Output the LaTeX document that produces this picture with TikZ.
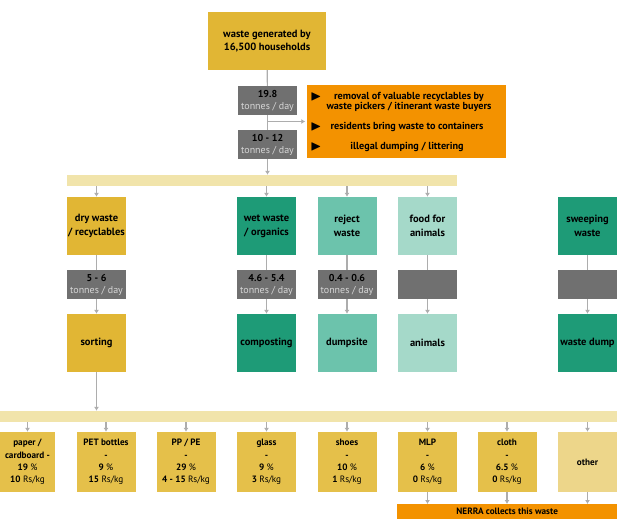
\documentclass[tikz,border=0pt]{standalone}
\usepackage{amssymb}
\usepackage{fontspec}
\setmainfont{PT Sans}
\usepackage{tikz}
\usetikzlibrary{arrows.meta}

\definecolor{wgold}{HTML}{E1B634}
\definecolor{witem}{HTML}{E5C04A}
\definecolor{wpale}{HTML}{EDD68A}
\definecolor{worange}{HTML}{F39200}
\definecolor{wgrey}{HTML}{707070}
\definecolor{wtonne}{HTML}{D6D6D6}
\definecolor{wbar}{HTML}{F1E4AB}
\definecolor{wgreen}{HTML}{1E9B77}
\definecolor{wteal}{HTML}{6CC3AC}
\definecolor{wmint}{HTML}{A5D9C9}
\definecolor{wline}{HTML}{ADADAD}

\newcommand{\tpd}{{\mdseries\color{wtonne}tonnes / day}}
\newcommand{\lite}[1]{{\mdseries #1}}

\begin{document}
\begin{tikzpicture}[x=1pt, y=-1pt,
    box/.style={minimum width=59pt, minimum height=58pt, inner sep=1pt,
                align=center, font=\fontsize{10.5}{14}\selectfont\bfseries},
    gold/.style={box, fill=wgold},
    rate/.style={fill=wgrey, minimum width=59pt, minimum height=29pt,
                 inner sep=1pt, align=center,
                 font=\fontsize{10}{12}\selectfont\bfseries},
    item/.style={fill=witem, minimum width=59pt, minimum height=60pt,
                 inner sep=1pt, align=center,
                 font=\fontsize{9.2}{12.3}\selectfont\bfseries},
    bar/.style={fill=wbar, minimum height=11pt, inner sep=0pt},
    note/.style={font=\fontsize{10.2}{10.5}\selectfont\bfseries, align=center},
    tri/.style={font=\Large, inner sep=0pt},
    link/.style={draw=wline, line width=1.2pt},
    arr/.style={link, -{Latex[length=4pt, width=5pt]}}
]
    \useasboundingbox (0,0) rectangle (622,519);

    % households and the first split
    \node[gold, minimum width=118pt, font=\fontsize{10.5}{13}\selectfont\bfseries] (source) at (267,41)
        {waste generated by\\16,500 households};
    \node[rate] (total) at (267.5,100.5) {19.8\\\tpd};
    \node[rate] (kept) at (267.5,144.5) {10 - 12\\\tpd};

    \node[fill=worange, minimum width=199pt, minimum height=73pt] (leak) at (406.5,121.5) {};
    \node[tri] (tri1) at (316,97) {$\blacktriangleright$};
    \node[tri] (tri2) at (316,126.5) {$\blacktriangleright$};
    \node[tri] (tri3) at (316,146.5) {$\blacktriangleright$};
    \node[note] (leak1) at (409,102) {removal of valuable recyclables by\\waste pickers / itinerant waste buyers};
    \node[note] (leak2) at (407,127) {residents bring waste to containers};
    \node[note] (leak3) at (407,147) {illegal dumping / littering};

    \node[bar, minimum width=390pt] (split) at (262,180.5) {};

    % waste streams
    \node[gold] (dry) at (96.5,226) {dry waste\\/ recyclables};
    \node[rate] (dryrate) at (96.5,284.5) {5 - 6\\\tpd};
    \node[gold] (sorting) at (96.5,343) {sorting};

    \node[box, fill=wgreen] (wet) at (266.5,226) {wet waste\\/ organics};
    \node[rate] (wetrate) at (266.5,284.5) {4.6 - 5.4\\\tpd};
    \node[box, fill=wgreen] (compost) at (266.5,343) {composting};

    \node[box, fill=wteal] (reject) at (347,226) {reject\\waste};
    \node[rate] (rejectrate) at (347,284.5) {0.4 - 0.6\\\tpd};
    \node[box, fill=wteal] (dumpsite) at (347,343) {dumpsite};

    \node[box, fill=wmint] (food) at (427.5,226) {food for\\animals};
    \node[rate] (foodrate) at (427.5,284.5) {};
    \node[box, fill=wmint] (animals) at (427.5,343) {animals};

    \node[box, fill=wgreen] (sweep) at (587.5,226) {sweeping\\waste};
    \node[rate] (sweeprate) at (587.5,284.5) {};
    \node[box, fill=wgreen] (dump) at (587.5,343) {waste dump};

    \node[bar, minimum width=617pt] (sort) at (308.5,416.5) {};

    % sorted fractions
    \node[item, minimum width=55pt] (paper) at (27.5,462)
        {paper /\\cardboard -\\19 \lite{\%}\\10 \lite{Rs/kg}};
    \node[item] (pet) at (106,462) {PET bottles\\-\\9 \lite{\%}\\15 \lite{Rs/kg}};
    \node[item] (pp) at (186,462) {PP / PE\\-\\29 \lite{\%}\\4 - 15 \lite{Rs/kg}};
    \node[item] (glass) at (266.5,462) {glass\\-\\9 \lite{\%}\\3 \lite{Rs/kg}};
    \node[item] (shoes) at (347,462) {shoes\\-\\10 \lite{\%}\\1 \lite{Rs/kg}};
    \node[item] (mlp) at (427.5,462) {MLP\\-\\6 \lite{\%}\\0 \lite{Rs/kg}};
    \node[item] (cloth) at (507,462) {cloth\\-\\6.5 \lite{\%}\\0 \lite{Rs/kg}};
    \node[item, fill=wpale] (other) at (587.5,462) {other};

    \node[fill=worange, minimum width=220pt, minimum height=15pt, inner sep=0pt,
          anchor=north west, font=\fontsize{9.2}{10}\selectfont\bfseries] (nerra) at (397,504)
        {NERRA collects this waste};

    \draw[link] (source) -- (total);
    \draw[link] (total) -- (kept);
    \draw[arr] (kept) -- (kept |- split.north);
    \draw[arr, shorten >=1.5pt] (total.south |- leak.west) -- (leak.west);

    \draw[arr] (split.south -| dry.north) -- (dry.north);
    \draw[arr] (split.south -| wet.north) -- (wet.north);
    \draw[arr] (split.south -| reject.north) -- (reject.north);
    \draw[arr] (split.south -| food.north) -- (food.north);

    \draw[link] (dry) -- (dryrate);
    \draw[arr] (dryrate) -- (sorting);
    \draw[link] (wet) -- (wetrate);
    \draw[arr] (wetrate) -- (compost);
    \draw[link] (reject) -- (rejectrate);
    \draw[arr] (rejectrate) -- (dumpsite);
    \draw[link] (food) -- (foodrate);
    \draw[arr] (foodrate) -- (animals);
    \draw[link] (sweep) -- (sweeprate);
    \draw[arr] (sweeprate) -- (dump);

    \draw[arr] (sorting) -- (sorting |- sort.north);
    \draw[arr] (sort.south -| paper.north) -- (paper.north);
    \draw[arr] (sort.south -| pet.north) -- (pet.north);
    \draw[arr] (sort.south -| pp.north) -- (pp.north);
    \draw[arr] (sort.south -| glass.north) -- (glass.north);
    \draw[arr] (sort.south -| shoes.north) -- (shoes.north);
    \draw[arr] (sort.south -| mlp.north) -- (mlp.north);
    \draw[arr] (sort.south -| cloth.north) -- (cloth.north);
    \draw[arr] (sort.south -| other.north) -- (other.north);

    \draw[arr] (mlp) -- (mlp |- nerra.north);
    \draw[arr] (cloth) -- (cloth |- nerra.north);
    \draw[arr] (other) -- (other |- nerra.north);
\end{tikzpicture}
\end{document}
